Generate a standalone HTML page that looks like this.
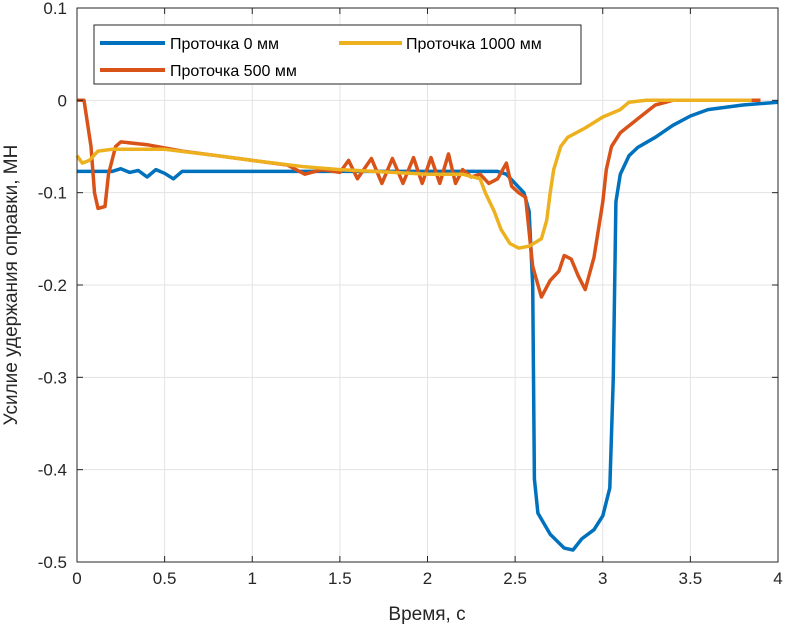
<!DOCTYPE html>
<html><head><meta charset="utf-8"><style>
body{margin:0;background:#fff;}
svg{display:block;font-family:"Liberation Sans","DejaVu Sans",sans-serif;}
</style></head><body>
<svg id="chart" width="786" height="631" viewBox="0 0 786 631" xmlns="http://www.w3.org/2000/svg">
<g id="grid"></g>
<g id="series"></g>
<g id="axes"></g>
<text x="427" y="620" font-size="19" text-anchor="middle" fill="#262626">Время, с</text>
<text transform="translate(17,285) rotate(-90)" font-size="19" text-anchor="middle" fill="#262626">Усилие удержания оправки, МН</text>
<g>
<rect x="94" y="25" width="487" height="59" fill="#fff" stroke="#262626" stroke-width="1"/>
<line x1="100" y1="43" x2="165" y2="43" stroke="#0072BD" stroke-width="4"/>
<text x="170" y="49" font-size="16" fill="#000">Проточка 0 мм</text>
<line x1="339" y1="43" x2="402" y2="43" stroke="#EDB120" stroke-width="4"/>
<text x="406" y="49" font-size="16" fill="#000">Проточка 1000 мм</text>
<line x1="100" y1="70" x2="165" y2="70" stroke="#D95319" stroke-width="4"/>
<text x="170" y="76" font-size="16" fill="#000">Проточка 500 мм</text>
</g>
</svg>
<script>
const xTicks=[0,0.5,1,1.5,2,2.5,3,3.5,4];
const yTicks=[0.1,0,-0.1,-0.2,-0.3,-0.4,-0.5];
const t0=[0,0.2,0.25,0.3,0.35,0.4,0.45,0.5,0.55,0.6,0.7,1.0,1.5,2.0,2.4,2.45,2.5,2.55,2.58,2.6,2.61,2.63,2.7,2.78,2.83,2.88,2.95,3.0,3.04,3.06,3.075,3.1,3.15,3.2,3.3,3.4,3.5,3.6,3.8,4.0];
const v0=[-0.077,-0.077,-0.074,-0.078,-0.076,-0.083,-0.075,-0.079,-0.085,-0.077,-0.077,-0.077,-0.077,-0.077,-0.077,-0.08,-0.09,-0.1,-0.12,-0.2,-0.41,-0.447,-0.47,-0.485,-0.487,-0.475,-0.465,-0.45,-0.42,-0.3,-0.11,-0.08,-0.06,-0.051,-0.04,-0.027,-0.017,-0.01,-0.005,-0.002];
const t500=[0,0.04,0.08,0.1,0.12,0.16,0.18,0.22,0.25,0.4,0.6,0.8,1.0,1.2,1.3,1.4,1.5,1.55,1.6,1.68,1.74,1.8,1.86,1.92,1.97,2.02,2.07,2.12,2.16,2.2,2.25,2.3,2.35,2.4,2.45,2.48,2.52,2.56,2.6,2.65,2.7,2.75,2.78,2.82,2.86,2.9,2.95,3.0,3.02,3.05,3.1,3.2,3.3,3.4,3.9];
const v500=[0,0,-0.05,-0.1,-0.117,-0.115,-0.08,-0.05,-0.045,-0.048,-0.055,-0.06,-0.065,-0.07,-0.08,-0.075,-0.078,-0.065,-0.085,-0.063,-0.09,-0.063,-0.09,-0.062,-0.09,-0.062,-0.09,-0.058,-0.09,-0.075,-0.083,-0.08,-0.09,-0.085,-0.068,-0.093,-0.1,-0.105,-0.18,-0.213,-0.195,-0.185,-0.168,-0.172,-0.19,-0.205,-0.17,-0.11,-0.075,-0.05,-0.035,-0.02,-0.005,0,0];
const t1000=[0,0.03,0.07,0.12,0.2,0.5,0.8,1.0,1.3,1.5,2.0,2.2,2.3,2.33,2.38,2.42,2.47,2.52,2.58,2.65,2.68,2.7,2.72,2.76,2.8,2.9,3.0,3.1,3.15,3.25,3.85];
const v1000=[-0.06,-0.068,-0.065,-0.055,-0.053,-0.053,-0.06,-0.065,-0.072,-0.075,-0.08,-0.08,-0.085,-0.1,-0.12,-0.14,-0.155,-0.16,-0.158,-0.15,-0.13,-0.1,-0.075,-0.05,-0.04,-0.03,-0.018,-0.01,-0.002,0,0];
const L=77,R=778,T=8,B=562;
const X=v=>L+(v-0)/(4-0)*(R-L);
const Y=v=>T+(0.1-v)/(0.6)*(B-T);
const NS="http://www.w3.org/2000/svg";
const grid=document.getElementById('grid'),axes=document.getElementById('axes'),ser=document.getElementById('series');
function mk(tag,attrs,parent){const e=document.createElementNS(NS,tag);for(const k in attrs)e.setAttribute(k,attrs[k]);parent.appendChild(e);return e;}
xTicks.forEach(v=>{
 const g=mk('line',{x1:X(v),x2:X(v),y1:T,y2:B,stroke:'#e3e3e3','stroke-width':1},grid);
 
 
 mk('line',{x1:X(v),x2:X(v),y1:B,y2:B-6,stroke:'#262626'},axes);
 mk('line',{x1:X(v),x2:X(v),y1:T,y2:T+6,stroke:'#262626'},axes);
 const tx=mk('text',{x:X(v),y:B+22,'font-size':17,'text-anchor':'middle',fill:'#262626'},axes);
 tx.textContent=String(v);
 
 
});
yTicks.forEach(v=>{
 const g=mk('line',{x1:L,x2:R,y1:Y(v),y2:Y(v),stroke:'#e3e3e3','stroke-width':1},grid);
 
 
 mk('line',{x1:L,x2:L+6,y1:Y(v),y2:Y(v),stroke:'#262626'},axes);
 mk('line',{x1:R,x2:R-6,y1:Y(v),y2:Y(v),stroke:'#262626'},axes);
 const tx=mk('text',{x:L-10,y:Y(v)+6,'font-size':17,'text-anchor':'end',fill:'#262626'},axes);
 tx.textContent=String(v);
 
 
});
mk('rect',{x:L,y:T,width:R-L,height:B-T,fill:'none',stroke:'#262626','stroke-width':1},axes);
function line(ts,vs,color,name){
 const d=ts.map((t,i)=>(i?'L':'M')+X(t).toFixed(1)+','+Y(vs[i]).toFixed(1)).join('');
 const p=mk('path',{d:d,fill:'none',stroke:color,'stroke-width':3.5,'stroke-linejoin':'round'},ser);
 
 
}
line(t0,v0,'#0072BD','series-0mm');
line(t500,v500,'#D95319','series-500mm');
line(t1000,v1000,'#EDB120','series-1000mm');
</script>
</body></html>
